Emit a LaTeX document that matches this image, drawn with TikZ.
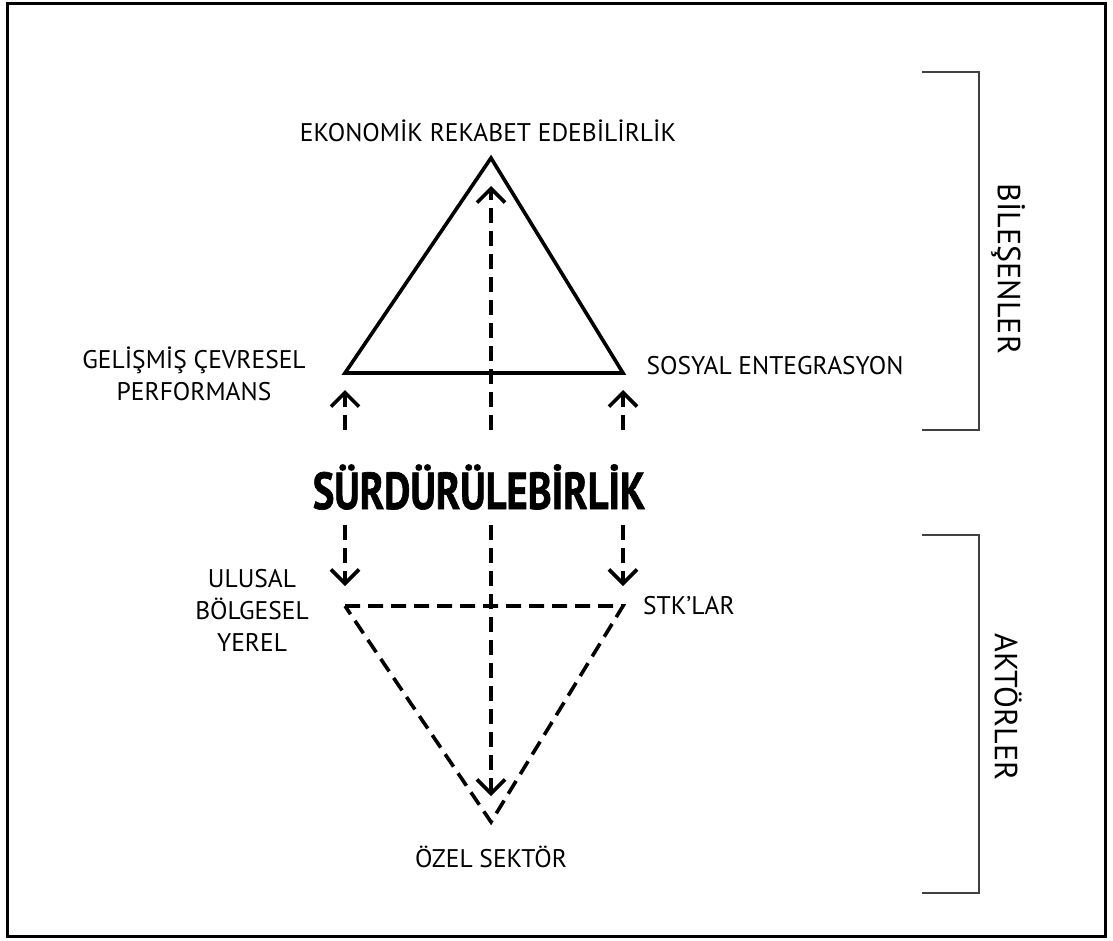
\documentclass[tikz,border=0pt]{standalone}
\usepackage{fontspec}
\setmainfont{PT Sans}
\newfontfamily\titlefont[FakeStretch=0.78,BoldFeatures={FakeBold=1.2}]{PT Sans}
\usetikzlibrary{arrows.meta}

\begin{document}
\begin{tikzpicture}[x=1pt,y=-1pt,
    lbl/.style={font=\fontsize{25.5}{32}\selectfont,align=center,inner sep=0pt},
    side/.style={font=\fontsize{32}{38}\selectfont,rotate=-90,inner sep=0pt},
    solidline/.style={line width=3.6pt,line join=miter},
    dashline/.style={line width=3.6pt,dash pattern=on 15pt off 8pt},
    dasharrow/.style={dashline,-{Straight Barb[length=14pt,width=28pt,line width=3.6pt]}},
    bracket/.style={line width=1.4pt,black!75},
   ]
  \useasboundingbox (0,0) rectangle (1113,940);
  \draw[line width=3pt] (7,3) rectangle (1105,936);

  % components triangle
  \coordinate (apex) at (491,158);
  \coordinate (env)  at (345,373);
  \coordinate (soc)  at (623,373);
  \draw[solidline] (apex) -- (env) -- (soc) -- cycle;

  % actors triangle
  \coordinate (nat) at (345,606);
  \coordinate (ngo) at (623,606);
  \coordinate (prv) at (491,822);
  \draw[dashline] (nat) -- (ngo) -- (prv) -- cycle;

  \node[inner sep=0pt] (sust) at (479,487)
    {\titlefont\bfseries\fontsize{52}{52}\selectfont SÜRDÜRÜLEBİRLİK};

  % arrows out of the centre
  \coordinate (upL) at (345,430);
  \coordinate (upC) at (491,430);
  \coordinate (upR) at (623,430);
  \coordinate (dnL) at (345,525);
  \coordinate (dnC) at (491,525);
  \coordinate (dnR) at (623,525);
  \coordinate (tipL) at (345,390);
  \coordinate (tipC) at (491,186);
  \coordinate (tipR) at (623,390);
  \coordinate (botL) at (345,586);
  \coordinate (botC) at (491,796);
  \coordinate (botR) at (623,586);
  \draw[dasharrow] (upL) -- (tipL);
  \draw[dasharrow] (upC) -- (tipC);
  \draw[dasharrow] (upR) -- (tipR);
  \draw[dasharrow] (dnL) -- (botL);
  \draw[dasharrow] (dnC) -- (botC);
  \draw[dasharrow] (dnR) -- (botR);

  % labels
  \node[lbl] (eco) at (488,131) {EKONOMİK REKABET EDEBİLİRLİK};
  \node[lbl] (envl) at (194,374) {GELİŞMİŞ ÇEVRESEL\\PERFORMANS};
  \node[lbl] (socl) at (775,366) {SOSYAL ENTEGRASYON};
  \node[lbl] (natl) at (252,610) {ULUSAL\\BÖLGESEL\\YEREL};
  \node[lbl] (ngol) at (689,606) {STK’LAR};
  \node[lbl] (prvl) at (491,857) {ÖZEL SEKTÖR};

  % side brackets
  \draw[bracket] (922,72) -| (979,430) -- (922,430);
  \draw[bracket] (922,535) -| (979,893) -- (922,893);
  \node[side] (comp) at (1008,269) {BİLEŞENLER};
  \node[side] (act) at (1008,707) {AKTÖRLER};
\end{tikzpicture}
\end{document}
